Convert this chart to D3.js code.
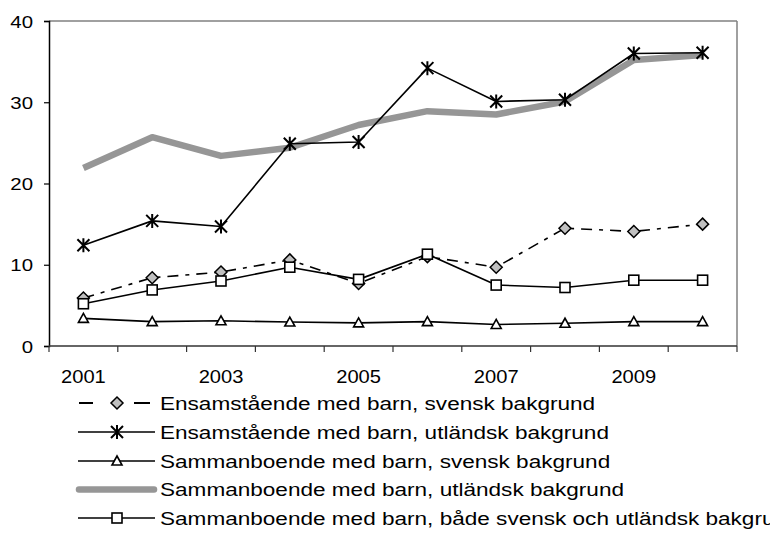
<!DOCTYPE html>
<html>
<head>
<meta charset="utf-8">
<script src="https://cdn.jsdelivr.net/npm/d3@7"></script>
<style>
  body { margin: 0; background: white; }
  text { font-family: "Liberation Sans", Arial, sans-serif; fill: black; }
</style>
</head>
<body>
<div id="chart"></div>
<script>
// data
var years = [2001, 2002, 2003, 2004, 2005, 2006, 2007, 2008, 2009, 2010];
var yearLabels = ["2001", "2003", "2005", "2007", "2009"];
var yTicks = [0, 10, 20, 30, 40];

var ensamSvensk = [5.9, 8.4, 9.1, 10.6, 7.7, 11.0, 9.7, 14.5, 14.1, 15.0];
var ensamUtl = [12.4, 15.4, 14.7, 24.9, 25.1, 34.2, 30.1, 30.3, 36.0, 36.1];
var sambSvensk = [3.4, 3.0, 3.1, 2.95, 2.85, 3.0, 2.65, 2.8, 3.0, 3.0];
var sambUtl = [21.9, 25.7, 23.4, 24.4, 27.2, 28.9, 28.5, 30.1, 35.2, 35.8];
var sambBada = [5.2, 6.9, 8.0, 9.7, 8.2, 11.3, 7.5, 7.2, 8.1, 8.1];

var seriesNames = [
  "Ensamstående med barn, svensk bakgrund",
  "Ensamstående med barn, utländsk bakgrund",
  "Sammanboende med barn, svensk bakgrund",
  "Sammanboende med barn, utländsk bakgrund",
  "Sammanboende med barn, både svensk och utländsk bakgrund"
];

var series = [
  {name: seriesNames[0], values: ensamSvensk, marker: "diamond", dash: "11,7,4,7", color: "black", width: 1.6},
  {name: seriesNames[1], values: ensamUtl, marker: "star", dash: null, color: "black", width: 1.6},
  {name: seriesNames[2], values: sambSvensk, marker: "triangle", dash: null, color: "black", width: 1.6},
  {name: seriesNames[3], values: sambUtl, marker: null, dash: null, color: "#969696", width: 6.5},
  {name: seriesNames[4], values: sambBada, marker: "square", dash: null, color: "black", width: 1.6}
];
// grey line goes under the others
var drawOrder = [3, 0, 4, 2, 1];

var W = 770, H = 533;
var margin = {top: 21, right: 33, bottom: 187, left: 49};
var width = W - margin.left - margin.right,
    height = H - margin.top - margin.bottom;
var sx = 1.2; // text in the original is a bit stretched sideways

var svg = d3.select("#chart").append("svg")
    .attr("width", W)
    .attr("height", H)
  .append("g")
    .attr("transform", "translate(" + margin.left + "," + margin.top + ")");

var x = d3.scaleBand().domain(years).range([0, width]);
var y = d3.scaleLinear().domain([0, 40]).range([height, 0]);

// frame top/right
svg.append("line").attr("x1", 0).attr("x2", width).attr("y1", 0).attr("y2", 0)
  .attr("stroke", "#808080").attr("stroke-width", 1.5);
svg.append("line").attr("x1", width).attr("x2", width).attr("y1", 0).attr("y2", height)
  .attr("stroke", "#808080").attr("stroke-width", 1.5);

// y axis
var yAxis = svg.append("g")
  .call(d3.axisLeft(y).tickValues(yTicks).tickSize(5));
yAxis.select(".domain").attr("stroke", "black").attr("stroke-width", 1.5);
yAxis.selectAll(".tick line").attr("stroke-width", 1.2);
yAxis.selectAll("text")
  .attr("x", null).attr("dy", "0.36em")
  .attr("transform", "translate(-16,0) scale(" + sx + ",1)")
  .attr("font-family", null).attr("font-size", null)
  .style("font-size", "17px");

// x axis: ticks at band boundaries
var xAxis = svg.append("g").attr("transform", "translate(0," + height + ")");
xAxis.append("line").attr("x1", 0).attr("x2", width).attr("stroke", "#333").attr("stroke-width", 1.5);
var bounds = years.map(function(d) { return x(d); }).concat([width]);
xAxis.selectAll(".btick").data(bounds).enter().append("line")
  .attr("x1", function(d) { return d; }).attr("x2", function(d) { return d; })
  .attr("y1", 0).attr("y2", 6).attr("stroke", "#333").attr("stroke-width", 1.2);
xAxis.selectAll(".xlab").data(yearLabels).enter().append("text")
  .attr("transform", function(d) {
    return "translate(" + (x(+d) + x.bandwidth() / 2) + ",37) scale(1.15,1)";
  })
  .attr("text-anchor", "middle")
  .style("font-size", "17.5px")
  .text(function(d) { return d; });

var cx = function(i) { return x(years[i]) + x.bandwidth() / 2; };
var line = d3.line()
  .x(function(d, i) { return cx(i); })
  .y(function(d) { return y(d); });

function drawMarker(g, type, px, py) {
  if (type === "diamond") {
    g.append("path").attr("d", "M" + px + "," + (py - 6) + "L" + (px + 6) + "," + py + "L" + px + "," + (py + 6) + "L" + (px - 6) + "," + py + "Z")
      .attr("fill", "#c0c0c0").attr("stroke", "black").attr("stroke-width", 1.5);
  } else if (type === "square") {
    g.append("rect").attr("x", px - 5).attr("y", py - 5).attr("width", 10).attr("height", 10)
      .attr("fill", "white").attr("stroke", "black").attr("stroke-width", 1.6);
  } else if (type === "triangle") {
    g.append("path").attr("d", "M" + px + "," + (py - 5) + "L" + (px + 5) + "," + (py + 4) + "L" + (px - 5) + "," + (py + 4) + "Z")
      .attr("fill", "white").attr("stroke", "black").attr("stroke-width", 1.6);
  } else if (type === "star") {
    var s = 6;
    g.append("path").attr("d",
      "M" + (px - s) + "," + (py - s) + "L" + (px + s) + "," + (py + s) +
      "M" + (px + s) + "," + (py - s) + "L" + (px - s) + "," + (py + s) +
      "M" + px + "," + (py - s - 1) + "L" + px + "," + (py + s + 1))
      .attr("stroke", "black").attr("stroke-width", 2).attr("fill", "none");
  }
}

drawOrder.forEach(function(k) {
  var s = series[k];
  var g = svg.append("g");
  g.append("path").datum(s.values)
    .attr("d", line)
    .attr("fill", "none")
    .attr("stroke", s.color)
    .attr("stroke-width", s.width)
    .attr("stroke-linejoin", "round")
    .attr("stroke-dasharray", s.dash);
  if (s.marker) {
    s.values.forEach(function(v, i) { drawMarker(g, s.marker, cx(i), y(v)); });
  }
});

// legend
var legend = svg.append("g").attr("transform", "translate(" + (-margin.left) + "," + (-margin.top) + ")");
var rowY = [403, 432, 461, 489.5, 518];
series.forEach(function(s, i) {
  var g = legend.append("g");
  var yy = rowY[i];
  if (s.marker === null) {
    g.append("line").attr("x1", 79).attr("x2", 154).attr("y1", yy).attr("y2", yy)
      .attr("stroke", s.color).attr("stroke-width", s.width).attr("stroke-linecap", "round");
  } else if (s.dash) {
    g.append("line").attr("x1", 79).attr("x2", 93).attr("y1", yy).attr("y2", yy)
      .attr("stroke", "black").attr("stroke-width", 2);
    g.append("line").attr("x1", 134).attr("x2", 150).attr("y1", yy).attr("y2", yy)
      .attr("stroke", "black").attr("stroke-width", 2);
    drawMarker(g, s.marker, 117, yy);
  } else {
    g.append("line").attr("x1", 78).attr("x2", 155).attr("y1", yy).attr("y2", yy)
      .attr("stroke", "black").attr("stroke-width", 1.6);
    drawMarker(g, s.marker, 117, yy);
  }
  // last label runs past the right edge, as in the original
  g.append("text")
    .attr("transform", "translate(160," + (yy + 6.5) + ") scale(1.22,1)")
    .style("font-size", "18.5px")
    .text(s.name);
});
</script>
</body>
</html>
